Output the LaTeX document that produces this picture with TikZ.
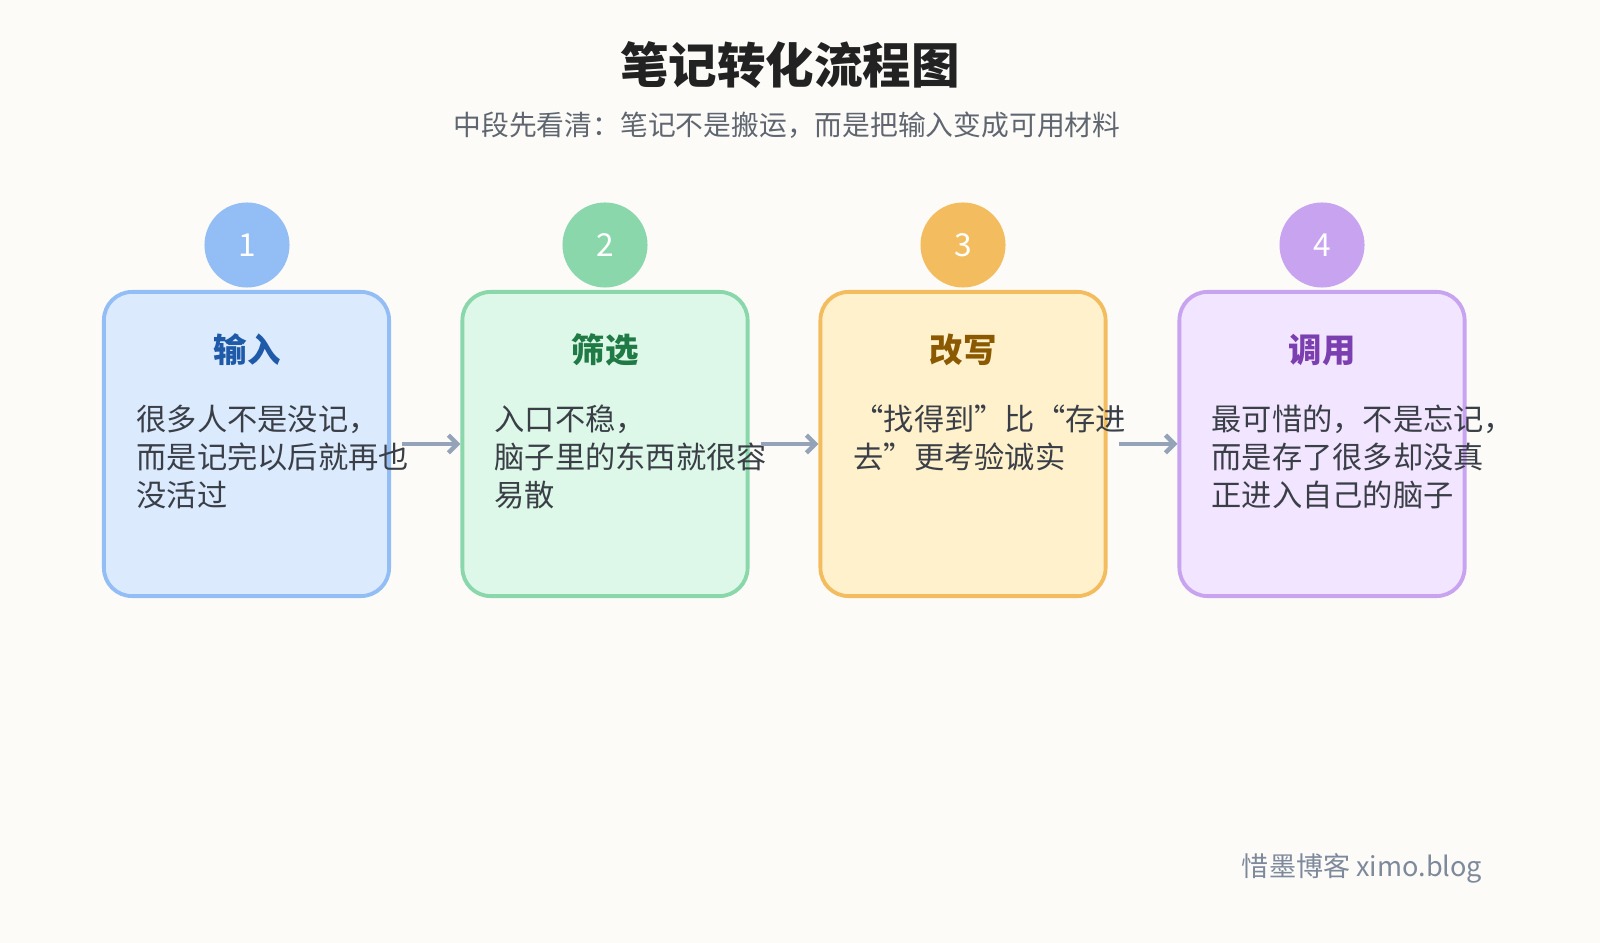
\documentclass[tikz,border=0pt]{standalone}
\usepackage{fontspec}
\setmainfont{Noto Sans CJK SC}
\usepackage{tikz}
\usetikzlibrary{arrows.meta,positioning}
\definecolor{pagebg}{HTML}{FCFBF8}
\definecolor{titletext}{HTML}{222222}
\definecolor{subtext}{HTML}{5F6670}
\definecolor{bodytext}{HTML}{3A3F47}
\definecolor{arrowgray}{HTML}{94A3B8}
\definecolor{blueedge}{HTML}{93BDF5}
\definecolor{bluefill}{HTML}{DCEAFE}
\definecolor{bluetitle}{HTML}{1E5AA8}
\definecolor{greenedge}{HTML}{8AD7AC}
\definecolor{greenfill}{HTML}{DDF8E8}
\definecolor{greentitle}{HTML}{1F7A45}
\definecolor{orangeedge}{HTML}{F3BD5F}
\definecolor{orangefill}{HTML}{FFF1CC}
\definecolor{orangetitle}{HTML}{8B5A00}
\definecolor{purpleedge}{HTML}{C8A3F0}
\definecolor{purplefill}{HTML}{F2E5FF}
\definecolor{purpletitle}{HTML}{7B3FB0}
\tikzset{
  stepcard/.style={draw=#1edge, fill=#1fill, line width=1.1pt, rounded corners=8pt,
    minimum width=2.85cm, minimum height=3.04cm, inner sep=0pt},
  stepnum/.style={circle, fill=#1edge, minimum size=0.85cm, inner sep=0pt,
    text=white, font=\fontsize{9}{9}\selectfont},
  steptitle/.style={text=#1title, font=\fontsize{9.5}{9.5}\selectfont\bfseries},
  stepbody/.style={anchor=north west, inner sep=0pt, align=left, text=bodytext,
    font=\fontsize{8.6}{10.8}\selectfont},
  flow/.style={draw=arrowgray, line width=1.3pt, -{Straight Barb[length=2.5pt,width=5pt]}}
}
\begin{document}
\begin{tikzpicture}[x=0.01cm, y=-0.01cm]
    % Canvas
    \fill[pagebg] (0,0) rectangle (1600,943);
    \useasboundingbox (0,0) rectangle (1600,943);

    % Title
    \node[text=titletext, font=\fontsize{13.8}{13.8}\selectfont\bfseries] (title) at (790,65) {笔记转化流程图};
    \node[text=subtext, font=\fontsize{7.9}{7.9}\selectfont] (subtitle) at (787,125) {中段先看清：笔记不是搬运，而是把输入变成可用材料};

    % Cards
    \node[stepcard=blue] (c1) at (246.5,444) {};
    \node[stepcard=green] (c2) at (605,444) {};
    \node[stepcard=orange] (c3) at (963,444) {};
    \node[stepcard=purple] (c4) at (1322,444) {};

    % Number badges
    \node[stepnum=blue] (n1) at (247,245) {1};
    \node[stepnum=green] (n2) at (605,245) {2};
    \node[stepnum=orange] (n3) at (963,245) {3};
    \node[stepnum=purple] (n4) at (1322,245) {4};

    % Card titles
    \node[steptitle=blue] (t1) at (247,350) {输入};
    \node[steptitle=green] (t2) at (605,350) {筛选};
    \node[steptitle=orange] (t3) at (963,350) {改写};
    \node[steptitle=purple] (t4) at (1322,350) {调用};

    % Card texts
    \node[stepbody] (b1) at (136,404) {很多人不是没记，\\而是记完以后就再也\\没活过};
    \node[stepbody] (b2) at (494,404) {入口不稳，\\脑子里的东西就很容\\易散};
    \node[stepbody] (b3) at (853,404) {“找得到”比“存进\\去”更考验诚实};
    \node[stepbody] (b4) at (1211,404) {最可惜的，不是忘记，\\而是存了很多却没真\\正进入自己的脑子};

    % Flow arrows
    \draw[flow] ([xshift=0.11cm]c1.east) -- (c2.west);
    \draw[flow] ([xshift=0.11cm]c2.east) -- (c3.west);
    \draw[flow] ([xshift=0.11cm]c3.east) -- (c4.west);

    % Watermark
    \node[text=arrowgray!85!black, font=\fontsize{7.7}{7.7}\selectfont] (mark) at (1362,868) {惜墨博客 ximo.blog};
\end{tikzpicture}
\end{document}
